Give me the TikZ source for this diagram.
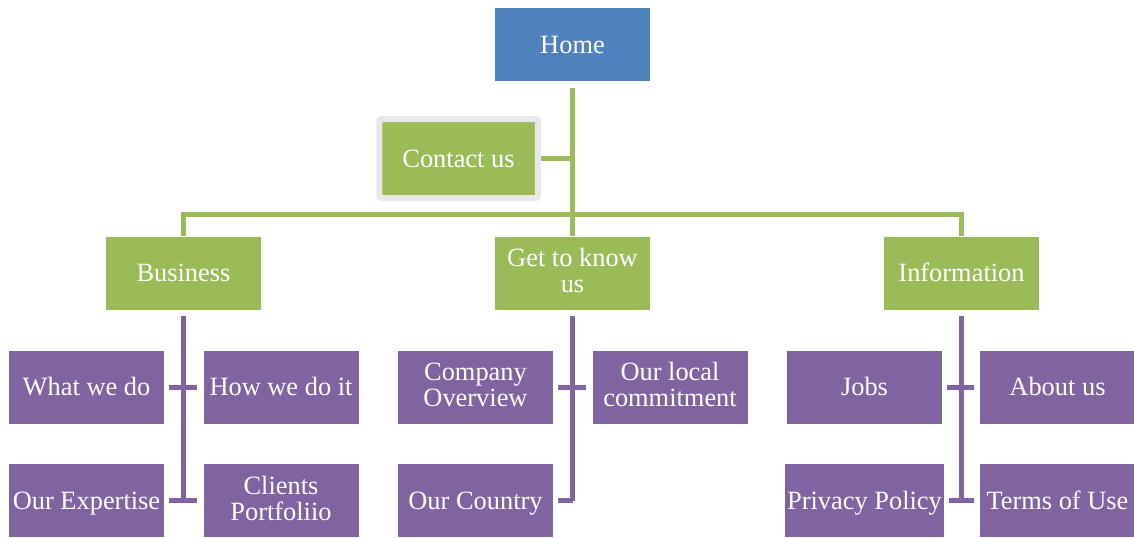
\documentclass[tikz,border=0pt]{standalone}
\usepackage{fontspec}
\setmainfont{Liberation Serif}
\usepackage{xcolor}
\definecolor{homeblue}{HTML}{4F81BD}
\definecolor{leafgreen}{HTML}{9BBB59}
\definecolor{pagepurple}{HTML}{8064A2}
\definecolor{framegray}{HTML}{E8E8E8}

\newcommand{\boxstrut}{\rule[-2.6pt]{0pt}{14pt}}

\tikzset{
  box/.style={minimum width=77.5pt, minimum height=36.5pt, inner sep=1pt,
    text=white, align=center, font=\fontsize{13.2}{13}\selectfont,
    execute at begin node=\boxstrut},
  topbox/.style={box, fill=leafgreen},
  subbox/.style={box, fill=pagepurple},
  trunk/.style={draw=leafgreen, line width=2.5pt},
  branch/.style={draw=pagepurple, line width=2.5pt}
}

\begin{document}
\begin{tikzpicture}[x=0.5pt, y=-0.5pt]
        \useasboundingbox (0,0) rectangle (1134,537);

        % Top level
        \node[box, fill=homeblue] (home) at (572.5,44.5) {Home};
        \node[topbox, draw=framegray, line width=3pt, rounded corners=1pt,
          minimum width=79.25pt, minimum height=39.5pt] (contact) at (458.5,158.5) {Contact us};
        \node[topbox] (business) at (183.5,273) {Business};
        \node[topbox] (getknow) at (572.5,273) {Get to know\\us};
        \node[topbox] (info) at (961.5,273) {Information};

        % Pages under Business
        \node[subbox] (whatdo) at (86.5,387) {What we do};
        \node[subbox] (howdo) at (281,387) {How we do it};
        \node[subbox] (expertise) at (86.5,500.5) {Our Expertise};
        \node[subbox] (clients) at (281,500.5) {Clients\\Portfoliio};

        % Pages under Get to know us
        \node[subbox] (overview) at (475.5,387) {Company\\Overview};
        \node[subbox] (commitment) at (670,387) {Our local\\commitment};
        \node[subbox] (country) at (475.5,500.5) {Our Country};

        % Pages under Information
        \node[subbox] (jobs) at (864.5,387) {Jobs};
        \node[subbox] (about) at (1057.5,387) {About us};
        \node[subbox] (privacy) at (864.5,500.5) {Privacy Policy};
        \node[subbox] (terms) at (1057.5,500.5) {Terms of Use};

        % Green connectors
        \draw[trunk] ([yshift=-3.5pt]home.south) -- (getknow.north);
        \draw[trunk] (contact.east) -- (contact.east -| home.south);
        \draw[trunk] (business.north) -- ++(0,-22) -| (info.north);

        % Purple connectors
        \foreach \top/\low in {business/expertise, getknow/country, info/privacy} {
          \draw[branch] ([yshift=-3pt]\top.south) -- (\top.south |- \low.east);
        }
        \foreach \a/\b in {whatdo/howdo, expertise/clients, overview/commitment, jobs/about, privacy/terms} {
          \draw[branch] ([xshift=2.5pt]\a.east) -- ([xshift=-3pt]\b.west);
        }
        \draw[branch] ([xshift=2.5pt]country.east) -- (country.east -| getknow.south);
    \end{tikzpicture}
\end{document}
